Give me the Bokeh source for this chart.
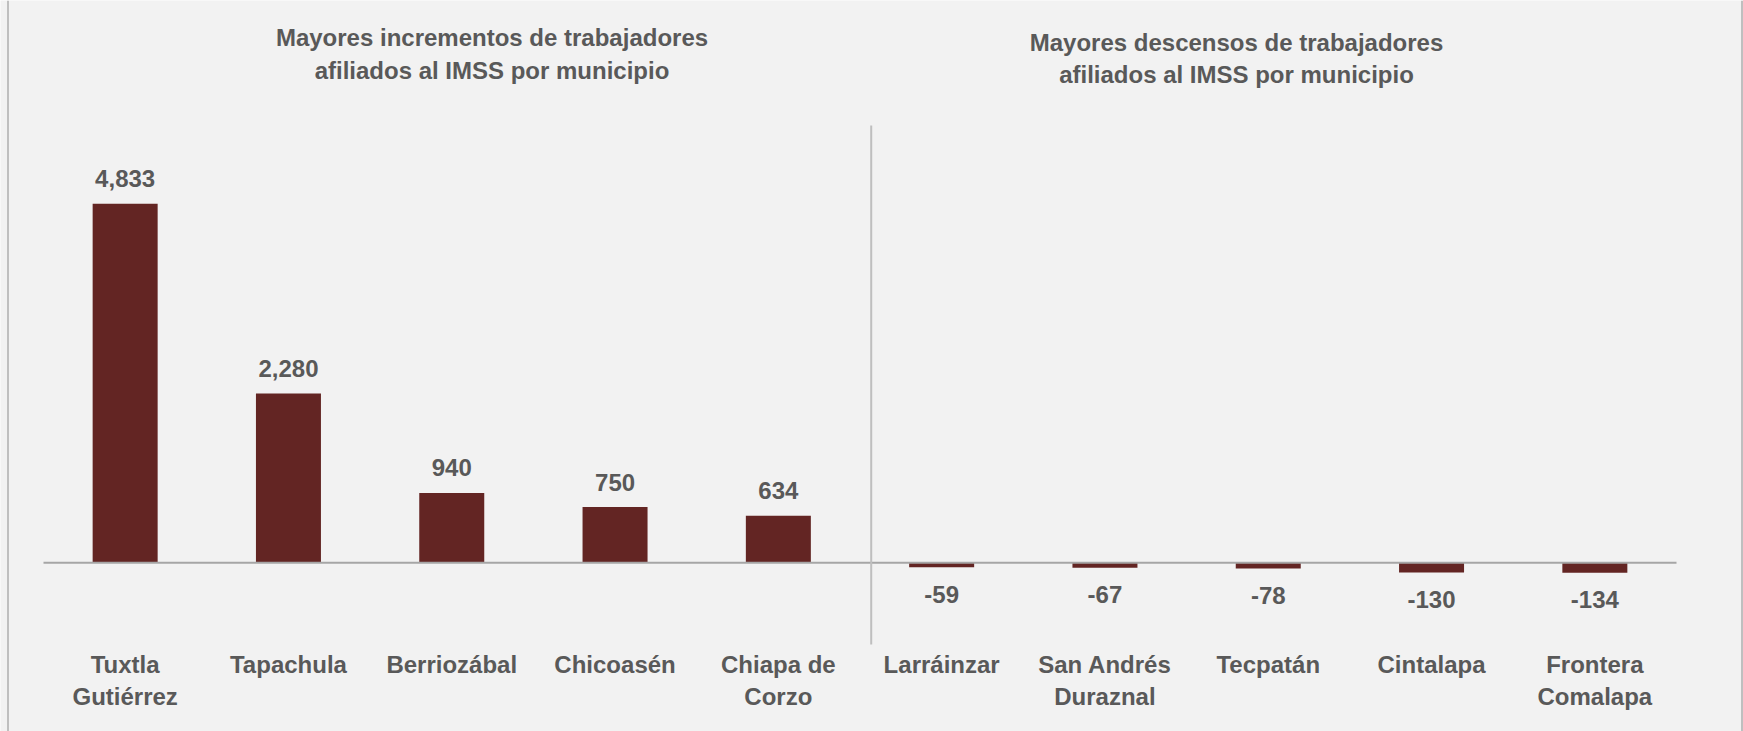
import numpy as np
from bokeh.plotting import figure
from bokeh.models import Range1d, Span, ColumnDataSource
from bokeh.core.properties import value
from bokeh.embed import file_html
from bokeh.resources import INLINE

# ---------------- data ----------------
municipios = ["Tuxtla\nGutiérrez", "Tapachula", "Berriozábal", "Chicoasén", "Chiapa de\nCorzo",
              "Larráinzar", "San Andrés\nDuraznal", "Tecpatán", "Cintalapa", "Frontera\nComalapa"]
variacion = [4833, 2280, 940, 750, 634, -59, -67, -78, -130, -134]
titulos = ["Mayores incrementos de trabajadores\nafiliados al IMSS por municipio",
           "Mayores descensos de trabajadores\nafiliados al IMSS por municipio"]

# ---------------- layout (pixels, figure coordinates) ----------------
W, H = 1743, 731
BAND = 163.3          # px per category
X0 = 43.0             # left edge of first category band
BASE = 562.3          # y pixel of zero line
PXU = 359.0 / 4833.0  # px per unit

def fx(px):
    return (px - X0) / BAND

def fy(py):
    return (BASE - py) / PXU

FONT = value("Liberation Sans")
TXT = "#595959"
BAR = "#632523"

p = figure(width=W, height=H, output_backend="svg", toolbar_location=None,
           x_range=Range1d(fx(0), fx(W)), y_range=Range1d(fy(H), fy(0)),
           x_axis_location=None, y_axis_location=None, min_border=0,
           background_fill_color="#F2F2F2", border_fill_color="#F2F2F2",
           outline_line_color=None)
p.grid.visible = False

n = len(municipios)
xs = np.arange(n) + 0.5
src = ColumnDataSource(dict(
    x=xs, top=variacion, name=municipios,
    lab=[f"{v:,}" for v in variacion],
    off=[-25 if v > 0 else 27 for v in variacion],
))

p.vbar(x="x", top="top", bottom=0, width=65 / BAND, source=src,
       fill_color=BAR, line_color=None)

# zero line
p.segment(x0=[0], y0=[0], x1=[n], y1=[0], line_color="#A6A6A6", line_width=2)

# separator between panels
p.segment(x0=[fx(870.7)], y0=[fy(125)], x1=[fx(870.7)], y1=[fy(644)],
          line_color="#BFBFBF", line_width=2)

# outer border lines
p.add_layout(Span(location=fx(7.5), dimension="height", line_color="#BFBFBF", line_width=2))
p.add_layout(Span(location=fx(1741.5), dimension="height", line_color="#BFBFBF", line_width=2))

# value labels
p.text(x="x", y="top", text="lab", y_offset="off", source=src,
       text_align="center", text_baseline="middle", text_font=FONT,
       text_font_style="bold", text_font_size="24px", text_color=TXT)

# category labels
p.text(x="x", y=fy(650), text="name", source=src,
       text_align="center", text_baseline="top", text_font=FONT,
       text_font_style="bold", text_font_size="24px", text_color=TXT,
       text_line_height=1.2)

# panel titles
p.text(x=[fx(491.5), fx(1236)], y=[fy(53.6), fy(58)], text=titulos,
       text_align="center", text_baseline="middle", text_font=FONT,
       text_font_style="bold", text_font_size="24px", text_color=TXT,
       text_line_height=1.2)

open("out.html", "w").write(file_html(p, INLINE))
